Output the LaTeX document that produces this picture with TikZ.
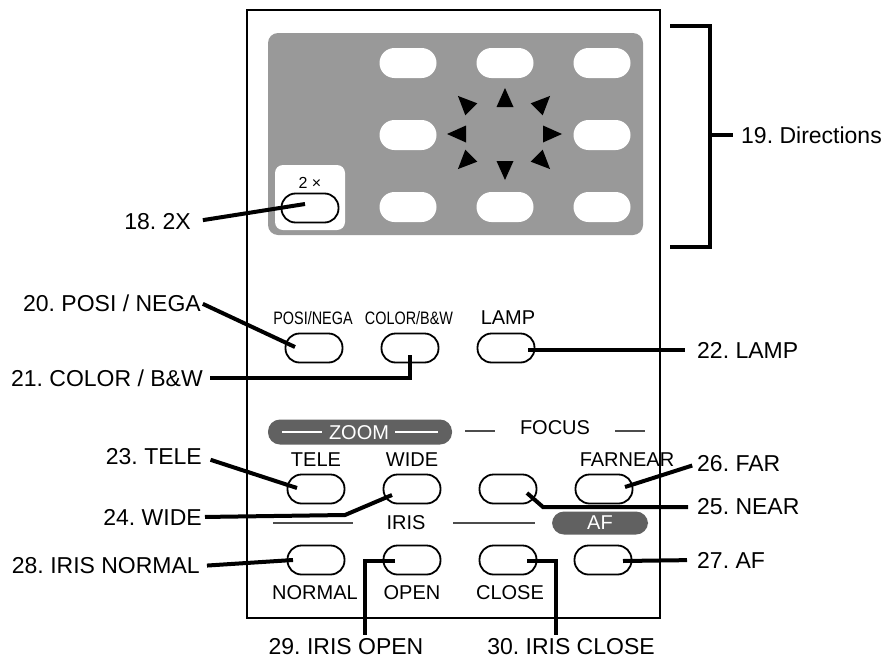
\documentclass[tikz,border=0pt]{standalone}
\usepackage{fontspec}
\setmainfont{Liberation Sans}
\usetikzlibrary{calc}
\frenchspacing

\begin{document}
\begin{tikzpicture}[x=1pt, y=-1pt,
  btn/.style={draw, fill=white, line width=1.8pt, rounded corners=14pt, minimum width=57pt, minimum height=29pt, inner sep=0pt},
  key/.style={fill=white, rounded corners=15pt, minimum width=57pt, minimum height=30pt, inner sep=0pt},
  callout/.style={font=\fontsize{23}{27}\selectfont, inner sep=0pt},
  tag/.style={font=\fontsize{20}{24}\selectfont, inner sep=0pt},
  narrowtag/.style={font=\fontsize{18}{22}\selectfont, inner sep=0pt},
  lead/.style={line width=4pt},
  rule/.style={line width=1.2pt, black!70},
  pill/.style={fill=black!62, rounded corners=12pt, inner sep=0pt}
]
  \useasboundingbox (0,0) rectangle (884,664);

  % Panel
  \draw[line width=2pt] (247,10) rectangle (660,618);
  \fill[black!40, rounded corners=10pt] (268,33) rectangle (643,235);
  \fill[white, rounded corners=8pt] (275,165) rectangle (345,230);
  \node[font=\fontsize{16}{18}\selectfont, inner sep=0pt] (x2) at (310,183) {2 ×};
  \node[btn] (b18) at (310,208) {};

  % Direction keys and arrows
  \foreach \x/\y [count=\i] in {408/63,505/63,602/63,408/135,602/135,408/207,505/207,602/207}
    \node[key] (k\i) at (\x,\y) {};
  \foreach \x/\y/\a in {505/98/90, 457/134/180, 552/134/0, 505/170/270,
                        465/103/135, 543/103/45, 465/162/225, 543/162/315}
    \fill[shift={(\x,\y)}, rotate=\a] (10,0) -- (-9,-8.5) -- (-9,8.5) -- cycle;

  % Bracket 19
  \node[callout, anchor=west] (l19) at (741,135) {19. Directions};
  \coordinate (brk) at (710,135);
  \draw[line width=4.5pt] (670,26) -- (710,26) -- (710,247) -- (670,247);
  \draw[line width=4.5pt, shorten >=8pt] (brk) -- (l19.west);

  % Row 2
  \node[narrowtag] (t20) at (313,318) {\scalebox{0.8}[1]{POSI/NEGA}};
  \node[narrowtag] (t21) at (409,318) {\scalebox{0.8}[1]{COLOR/B\&W}};
  \node[tag] (t22) at (508,318) {LAMP};
  \node[btn] (b20) at (314,348) {};
  \node[btn] (b21) at (410,348) {};
  \node[btn] (b22) at (506,348) {};

  % Zoom / Focus
  \node[pill, minimum width=184pt, minimum height=25pt] (zoompill) at (360,432) {};
  \node[tag, text=white] (tzoom) at (359,433) {ZOOM};
  \draw[white, line width=1.2pt] (282,432) -- (322,432) (395,432) -- (438,432);
  \node[tag] (tfocus) at (555,428) {FOCUS};
  \draw[rule] (465,431) -- (495,431) (615,431) -- (645,431);

  % Row 3
  \node[tag] (t23) at (316,460) {TELE};
  \node[tag] (t24) at (412,460) {WIDE};
  \node[tag] (t26) at (627,460) {FARNEAR};
  \node[btn] (b23) at (316,489) {};
  \node[btn] (b24) at (412,489) {};
  \node[btn] (b25) at (508,489) {};
  \node[btn] (b26) at (604,489) {};

  % Iris / AF
  \draw[rule] (273,523) -- (353,523) (453,523) -- (535,523);
  \node[tag] (tiris) at (406,523) {IRIS};
  \node[pill, minimum width=96pt, minimum height=23pt] (afpill) at (600,523) {};
  \node[tag, text=white] (taf) at (600,523) {AF};

  % Row 4
  \node[btn] (b28) at (316,560) {};
  \node[btn] (b29) at (412,560) {};
  \node[btn] (b30) at (508,560) {};
  \node[btn] (b27) at (603,560) {};
  \node[tag] (t28) at (315,593) {NORMAL};
  \node[tag] (t29) at (412,593) {OPEN};
  \node[tag] (t30) at (510,593) {CLOSE};

  % Callouts
  \node[callout, anchor=east] (l18) at (191,222) {18. 2X};
  \node[callout, anchor=east] (l20) at (201,303) {20. POSI / NEGA};
  \node[callout, anchor=east] (l21) at (203,378) {21. COLOR / B\&W};
  \node[callout, anchor=west] (l22) at (697,350) {22. LAMP};
  \node[callout, anchor=east] (l23) at (202,457) {23. TELE};
  \node[callout, anchor=east] (l24) at (202,517) {24. WIDE};
  \node[callout, anchor=west] (l25) at (697,507) {25. NEAR};
  \node[callout, anchor=west] (l26) at (697,464) {26. FAR};
  \node[callout, anchor=west] (l27) at (697,560) {27. AF};
  \node[callout, anchor=east] (l28) at (200,566) {28. IRIS NORMAL};
  \node[callout] (l29) at (346,647) {29. IRIS OPEN};
  \node[callout] (l30) at (571,647) {30. IRIS CLOSE};

  % Leaders
  \draw[lead, shorten <=12pt] (l18.east) -- ($(b18)+(-5,-4)$);
  \draw[lead, shorten <=2pt] (l20.east) -- ($(b20)+(-19,-1)$);
  \draw[lead, shorten <=7pt] (l21.east) -| ($(b21)+(0,7)$);
  \draw[lead, shorten >=12pt] ($(b22)+(22,2)$) -- (l22.west);
  \draw[lead, shorten <=9pt] (l23.east) -- ($(b23)+(-19,-1)$);
  \draw[lead, shorten <=3pt] (l24.east) -- ($(b24)+(-67,26)$) -- ($(b24)+(-20,6)$);
  \draw[lead, shorten >=9pt] ($(b25)+(19,4)$) -- ($(b25)+(35,18)$) -- (l25.west);
  \draw[lead, shorten >=5pt] ($(b26)+(21,-2)$) -- (l26.west);
  \draw[lead, shorten >=10pt] ($(b27)+(20,1)$) -- (l27.west);
  \draw[lead, shorten <=7pt] (l28.east) -- ($(b28)+(-23,0)$);
  \draw[lead] ($(b29)+(-17,1)$) -| ($(l29.north)+(19,-4)$);
  \draw[lead] ($(b30)+(19,1)$) -| ($(l30.north)+(-15,-4)$);
\end{tikzpicture}
\end{document}
